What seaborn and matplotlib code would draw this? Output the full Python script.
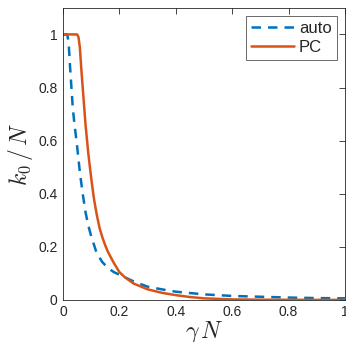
import numpy as np
import pandas as pd
import matplotlib
matplotlib.use("Agg")
import matplotlib.pyplot as plt
import seaborn as sns

# values
auto_x = [0.0, 0.015, 0.02, 0.025, 0.03, 0.035, 0.04, 0.05, 0.06, 0.07, 0.08, 0.09, 0.1, 0.12, 0.14,
          0.16, 0.18, 0.2, 0.25, 0.3, 0.35, 0.4, 0.5, 0.6, 0.7, 0.8, 0.9, 1.0]
auto_y = [1.0, 1.0, 0.97, 0.88, 0.8, 0.72, 0.67, 0.58, 0.48, 0.4, 0.33, 0.28, 0.24, 0.175, 0.142,
          0.12, 0.105, 0.095, 0.07, 0.05, 0.04, 0.031, 0.021, 0.015, 0.012, 0.009, 0.007, 0.006]
pc_x = [0.0, 0.05, 0.055, 0.06, 0.065, 0.07, 0.075, 0.08, 0.09, 0.1, 0.11, 0.12, 0.13, 0.14, 0.15,
        0.16, 0.18, 0.2, 0.22, 0.25, 0.3, 0.35, 0.4, 0.45, 0.5, 0.6, 0.7, 0.8, 1.0]
pc_y = [1.0, 1.0, 0.99, 0.95, 0.87, 0.8, 0.73, 0.66, 0.55, 0.46, 0.38, 0.32, 0.27, 0.235, 0.205,
        0.18, 0.14, 0.105, 0.085, 0.062, 0.04, 0.027, 0.018, 0.011, 0.006, 0.002, 0.001, 0.0005, 0.0]

blue = "#0072BD"
orange = "#D95319"

sns.set_style("white")
plt.rcParams["font.family"] = ["Liberation Sans", "DejaVu Sans"]
plt.rcParams["mathtext.fontset"] = "cm"
plt.rcParams["xtick.direction"] = "in"
plt.rcParams["ytick.direction"] = "in"

df = pd.concat([
    pd.DataFrame({"x": auto_x, "y": auto_y, "method": "auto"}),
    pd.DataFrame({"x": pc_x, "y": pc_y, "method": "PC"}),
])

fig = plt.figure(figsize=(3.46, 3.42), dpi=100)
ax = fig.add_axes([0.182, 0.123, 0.815, 0.854])

sns.lineplot(data=df[df.method == "auto"], x="x", y="y", ax=ax, color=blue,
             lw=1.8, linestyle=(0, (3.8, 2.8)), label="auto", estimator=None, sort=False)
sns.lineplot(data=df[df.method == "PC"], x="x", y="y", ax=ax, color=orange,
             lw=1.8, label="PC", estimator=None, sort=False)

ax.set_xlim(0, 1)
ax.set_ylim(0, 1.1)
ax.set_xticks([0, 0.2, 0.4, 0.6, 0.8, 1])
ax.set_xticklabels(["0", "0.2", "0.4", "0.6", "0.8", "1"])
ax.set_yticks([0, 0.2, 0.4, 0.6, 0.8, 1])
ax.set_yticklabels(["0", "0.2", "0.4", "0.6", "0.8", "1"])
ax.tick_params(axis="both", which="both", labelsize=10, colors="#262626", length=4,
               width=0.6, top=True, right=True, pad=4)
for s in ax.spines.values():
    s.set_color("#262626")
    s.set_linewidth(0.6)

ax.set_xlabel(r"$\gamma\, N$", fontsize=17, labelpad=0)
ax.set_ylabel(r"$k_{\mathit{0}}\,/\,N$", fontsize=17, labelpad=2)

leg = ax.legend(loc="upper right", fontsize=12, frameon=True, fancybox=False,
                handlelength=2.6, handletextpad=0.3, borderpad=0.3, labelspacing=0.2,
                borderaxespad=0.5)
leg.get_frame().set_edgecolor("#262626")
leg.get_frame().set_linewidth(0.6)

fig.savefig("out.png", dpi=100)
